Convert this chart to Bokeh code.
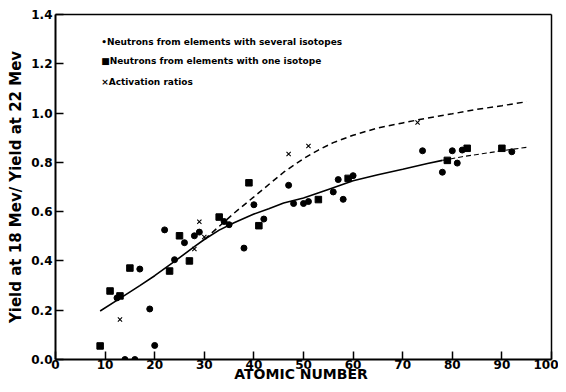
from bokeh.plotting import figure
from bokeh.models import Range1d, FixedTicker, PrintfTickFormatter, LinearAxis
from bokeh.core.properties import value
from bokeh.embed import file_html
from bokeh.resources import INLINE

# Neutrons from elements with several isotopes (circles)
sev_x = [12.4, 14, 16, 17, 19, 20, 22, 24, 26, 28, 29, 34, 35, 38, 40, 42, 47, 48, 50, 51, 56, 57, 58, 60, 74, 78, 80, 81, 82, 92]
sev_y = [0.25, 0.0, 0.0, 0.367, 0.205, 0.057, 0.526, 0.405, 0.474, 0.502, 0.517, 0.56, 0.547, 0.452, 0.628, 0.57, 0.707, 0.633, 0.633, 0.641, 0.68, 0.73, 0.65, 0.746, 0.847, 0.76, 0.847, 0.797, 0.85, 0.843]

# Neutrons from elements with one isotope (squares)
one_x = [9, 11, 13, 15, 23, 25, 27, 33, 39, 41, 53, 59, 79, 83, 90]
one_y = [0.055, 0.278, 0.258, 0.371, 0.359, 0.502, 0.40, 0.578, 0.717, 0.543, 0.649, 0.735, 0.808, 0.857, 0.857]

# Activation ratios (x marks)
act_x = [13, 28, 29, 30, 47, 51, 73]
act_y = [0.162, 0.448, 0.559, 0.497, 0.834, 0.866, 0.962]

# Solid fitted curve and its thin dashed continuation
fit_x = [9, 13, 17, 20, 24, 28, 30, 33, 36, 40, 43, 46, 50, 55, 60, 65, 70, 75, 78]
fit_y = [0.197, 0.248, 0.30, 0.34, 0.398, 0.458, 0.487, 0.525, 0.555, 0.59, 0.612, 0.635, 0.655, 0.69, 0.725, 0.75, 0.772, 0.795, 0.808]
ext_x = [78, 82, 86, 90, 95]
ext_y = [0.808, 0.823, 0.835, 0.847, 0.861]

# Dashed curve (activation)
dash_x = [30, 33, 36, 40, 43, 46, 50, 53, 56, 60, 65, 70, 75, 80, 85, 90, 95]
dash_y = [0.487, 0.54, 0.594, 0.66, 0.71, 0.76, 0.815, 0.85, 0.88, 0.91, 0.94, 0.96, 0.98, 0.997, 1.015, 1.03, 1.046]

x_ticks = [0, 10, 20, 30, 40, 50, 60, 70, 80, 90, 100]
y_ticks = [0.0, 0.2, 0.4, 0.6, 0.8, 1.0, 1.2, 1.4]

legend_labels = ["\u2022Neutrons from elements with several isotopes",
                 "\u25a0Neutrons from elements with one isotope",
                 "\u00d7Activation ratios"]

FONT = "DejaVu Sans"

p = figure(width=558, height=384, output_backend="svg", toolbar_location=None,
           x_range=Range1d(0, 100), y_range=Range1d(0, 1.4),
           min_border_left=55, min_border_right=7, min_border_top=14, min_border_bottom=20)
p.xgrid.visible = False
p.ygrid.visible = False
p.outline_line_color = None

for ax in (p.xaxis[0], p.yaxis[0]):
    ax.axis_line_width = 2
    ax.axis_line_color = "black"
    ax.major_tick_in = 8
    ax.major_tick_out = 0
    ax.major_tick_line_width = 1.5
    ax.minor_tick_line_color = None
    ax.major_label_text_font = FONT
    ax.major_label_text_font_style = "bold"
    ax.major_label_text_font_size = "12px"
    ax.major_label_text_color = "black"

p.xaxis.ticker = FixedTicker(ticks=x_ticks)
p.yaxis.ticker = FixedTicker(ticks=y_ticks)
p.yaxis.formatter = PrintfTickFormatter(format="%.1f")
p.xaxis.major_label_standoff = 0
p.yaxis.major_label_standoff = 3

p.yaxis.axis_label = "Yield at 18 Mev/ Yield at 22 Mev"
p.yaxis.axis_label_text_font = FONT
p.yaxis.axis_label_text_font_style = "bold"
p.yaxis.axis_label_text_font_size = "15px"
p.yaxis.axis_label_text_color = "black"
p.yaxis.axis_label_standoff = 3

p.xaxis.axis_label = "ATOMIC  NUMBER"
p.xaxis.axis_label_text_font = FONT
p.xaxis.axis_label_text_font_style = "bold"
p.xaxis.axis_label_text_font_size = "14px"
p.xaxis.axis_label_text_color = "black"
p.xaxis.axis_label_standoff = -6

# frame borders (top and right) as axes with hidden ticks and labels
for side, ticks in (("above", x_ticks), ("right", y_ticks)):
    b = LinearAxis(ticker=FixedTicker(ticks=ticks), axis_line_width=1.5, axis_line_color="black",
                   major_tick_line_color=None, minor_tick_line_color=None,
                   major_tick_in=0, major_tick_out=0,
                   major_label_text_color=None, major_label_text_font_size="1px",
                   major_label_standoff=0)
    p.add_layout(b, side)

# curves
p.line(fit_x, fit_y, line_color="black", line_width=1.6)
p.line(ext_x, ext_y, line_color="black", line_width=1.1, line_dash="5 3")
p.line(dash_x, dash_y, line_color="black", line_width=1.5, line_dash="6 4")

# points
p.scatter(sev_x, sev_y, marker="circle", size=6, color="black")
p.scatter(one_x, one_y, marker="square", size=6.5, color="black")
p.scatter(act_x, act_y, marker="x", size=6, line_color="black", line_width=1.1)

# legend texts
p.text(x=[9.2, 9.2, 9.2], y=[1.29, 1.212, 1.127], text=legend_labels,
       text_font=value(FONT), text_font_style="bold", text_font_size="9px",
       text_color="black", text_baseline="middle", text_align="left")

open("out.html", "w").write(file_html(p, INLINE))
